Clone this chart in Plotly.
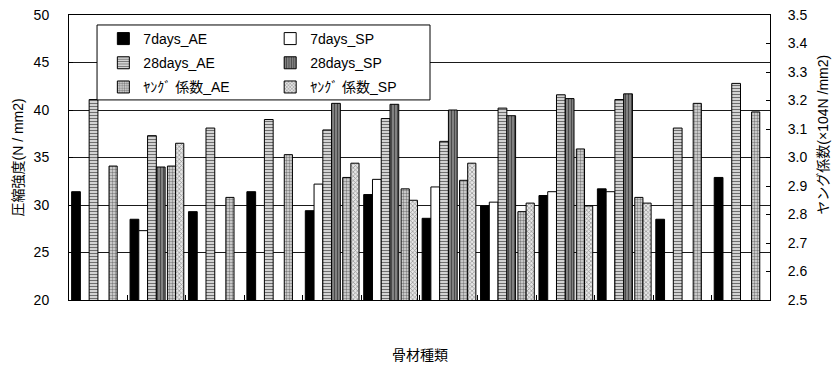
import plotly.graph_objects as go

categories = ["No.1", "No.2", "No.3", "No.4", "No.5", "No.6",
              "No.7", "No.8", "No.9", "No.10", "No.11", "No.12"]

days7_ae = [31.4, 28.5, 29.3, 31.4, 29.4, 31.1, 28.6, 29.9, 31.0, 31.7, 28.5, 32.9]
days7_sp = [None, 27.3, None, None, 32.2, 32.7, 31.9, 30.3, 31.4, 31.4, None, None]
days28_ae = [41.1, 37.3, 38.1, 39.0, 37.9, 39.1, 36.7, 40.2, 41.6, 41.1, 38.1, 42.8]
days28_sp = [None, 34.0, None, None, 40.7, 40.6, 40.0, 39.4, 41.2, 41.7, None, None]
young_ae = [2.97, 2.97, 2.86, 3.01, 2.93, 2.89, 2.92, 2.81, 3.03, 2.86, 3.19, 3.16]
young_sp = [None, 3.05, None, None, 2.98, 2.85, 2.98, 2.84, 2.83, 2.84, None, None]

names = ["7days_AE", "7days_SP", "28days_AE", "28days_SP", "ﾔﾝｸﾞ 係数_AE", "ﾔﾝｸﾞ 係数_SP"]
title_left = "圧縮強度(N / mm2)"
title_right = "ヤング係数(×104N /mm2)"
title_x = "骨材種類"

FONT = "Liberation Sans, Noto Sans CJK JP, sans-serif"
fig = go.Figure()

W1 = 0.15
W2 = 0.14
line = dict(color="#000000", width=1)

fig.add_trace(go.Bar(x=categories, y=days7_ae, name=names[0], offset=-0.455, width=W1,
                     marker=dict(color="#000000", line=line),
                     legend="legend", legendgroup="a1", yaxis="y"))
fig.add_trace(go.Bar(x=categories, y=days7_sp, name=names[1], offset=-0.305, width=W1,
                     marker=dict(color="#ffffff", line=line),
                     legend="legend2", legendgroup="b1", yaxis="y"))
fig.add_trace(go.Bar(x=categories, y=days28_ae, name=names[2], offset=-0.155, width=W1,
                     marker=dict(color="#ffffff", line=line,
                                 pattern=dict(shape="-", fgcolor="#6e6e6e", bgcolor="#e8e8e8",
                                              size=3, solidity=0.45, fillmode="replace")),
                     legend="legend", legendgroup="a2", yaxis="y"))
fig.add_trace(go.Bar(x=categories, y=days28_sp, name=names[3], offset=-0.005, width=W1,
                     marker=dict(color="#888888", line=line,
                                 pattern=dict(shape="|", fgcolor="#4a4a4a", bgcolor="#8c8c8c",
                                              size=3, solidity=0.45, fillmode="replace")),
                     legend="legend2", legendgroup="b2", yaxis="y"))
fig.add_trace(go.Bar(x=categories, y=young_ae, name=names[4], offset=0.185, width=W2,
                     marker=dict(color="#ffffff", line=line,
                                 pattern=dict(shape=".", fgcolor="#808080", bgcolor="#e0e0e0",
                                              size=3, solidity=0.5, fillmode="replace")),
                     legend="legend", legendgroup="a3", yaxis="y2"))
fig.add_trace(go.Bar(x=categories, y=young_sp, name=names[5], offset=0.325, width=W2,
                     marker=dict(color="#ffffff", line=line,
                                 pattern=dict(shape="x", fgcolor="#909090", bgcolor="#e6e6e6",
                                              size=3, solidity=0.4, fillmode="replace")),
                     legend="legend2", legendgroup="b3", yaxis="y2"))

# legend frame
fig.add_shape(type="rect", xref="paper", yref="paper", x0=0.040, x1=0.515, y0=0.702, y1=0.965,
              line=dict(color="#000000", width=1), fillcolor="#ffffff", layer="above")

# axis titles
fig.add_annotation(text=title_left, xref="paper", yref="paper", x=-52 / 701, y=0.5,
                   xanchor="center", yanchor="middle", textangle=-90, showarrow=False,
                   font=dict(family=FONT, size=14, color="#000"))
fig.add_annotation(text=title_right, xref="paper", yref="paper", x=1 + 53 / 701, y=0.58,
                   xanchor="center", yanchor="middle", textangle=-90, showarrow=False,
                   font=dict(family=FONT, size=14, color="#000"))
fig.add_annotation(text=title_x, xref="paper", yref="paper", x=0.5, y=-55 / 285,
                   xanchor="center", yanchor="middle", showarrow=False,
                   font=dict(family=FONT, size=14, color="#000"))

leg_common = dict(bgcolor="rgba(0,0,0,0)", borderwidth=0, font=dict(family=FONT, size=14, color="#000"),
                  orientation="v", traceorder="grouped", tracegroupgap=3,
                  xanchor="left", yanchor="top", itemclick=False)

fig.update_layout(
    width=837, height=368,
    margin=dict(l=69, r=67, t=15, b=68, autoexpand=False),
    paper_bgcolor="#ffffff", plot_bgcolor="#ffffff",
    barmode="overlay",
    font=dict(family=FONT, size=14, color="#000000"),
    showlegend=True,
    legend=dict(x=0.049, y=0.972, **leg_common),
    legend2=dict(x=0.287, y=0.972, **leg_common),
    xaxis=dict(type="category", categoryorder="array", categoryarray=categories,
               range=[-0.5, 11.5], showticklabels=False, automargin=False,
               ticks="inside", ticklen=5, tickcolor="#000", tickson="boundaries",
               showline=True, linecolor="#000", linewidth=1, mirror=True, showgrid=False),
    yaxis=dict(range=[20, 50], dtick=5, tick0=20, ticks="inside", ticklen=4, tickcolor="#000",
               showline=True, linecolor="#000", linewidth=1, automargin=False,
               showgrid=True, gridcolor="#1a1a1a", gridwidth=1, zeroline=False,
               ticklabelstandoff=16,
               tickfont=dict(family=FONT, size=14)),
    yaxis2=dict(range=[2.5, 3.5], dtick=0.1, tick0=2.5, tickformat=".1f", overlaying="y", side="right",
                ticks="inside", ticklen=4, tickcolor="#000", automargin=False,
                showline=True, linecolor="#000", linewidth=1, showgrid=False, zeroline=False,
                ticklabelstandoff=14,
                tickfont=dict(family=FONT, size=14)),
)

fig.write_html("out.html", config={"displayModeBar": False},
               post_script="document.body.style.margin='0px';document.body.style.overflow='hidden';")
